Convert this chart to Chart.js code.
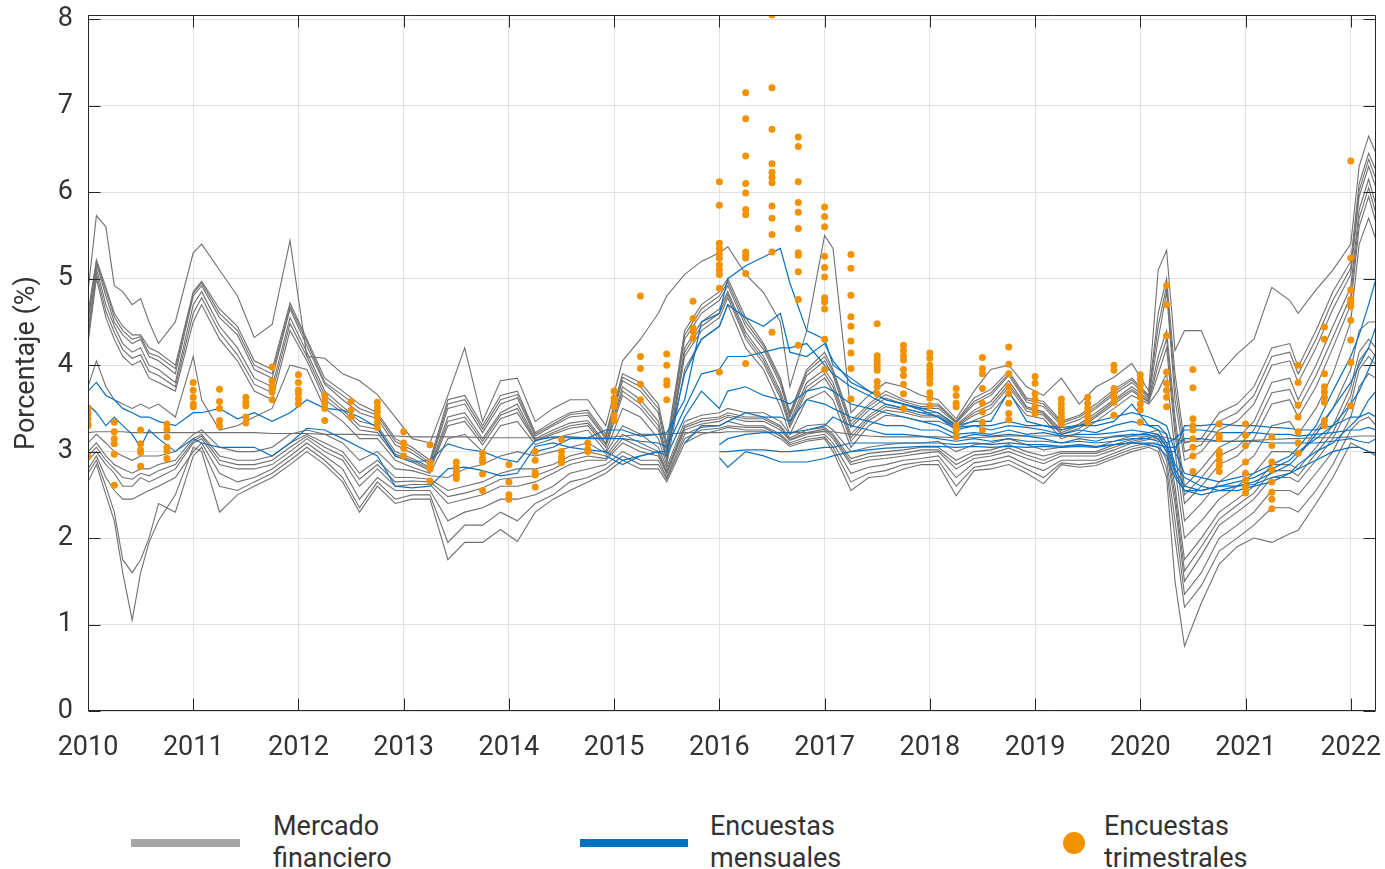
<!DOCTYPE html>
<html><head><meta charset="utf-8">
<script src="https://cdn.jsdelivr.net/npm/chart.js@4"></script>
<style>
html,body{margin:0;padding:0;background:#fff;}
#wrap{position:relative;width:1385px;height:869px;font-family:Roboto,sans-serif;color:#333;overflow:hidden;}
#c{position:absolute;left:0;top:0;}
.lg{position:absolute;font-size:27px;line-height:32px;color:#333;white-space:nowrap;}
.sw{position:absolute;}
</style></head><body>
<div id="wrap">
<canvas id="c" width="1385" height="790"></canvas>
<div class="sw" style="left:131px;top:839px;width:109px;height:8px;background:#a6a6a6"></div>
<div class="lg" style="left:273px;top:810px">Mercado<br>financiero</div>
<div class="sw" style="left:580px;top:839px;width:108px;height:8px;background:#0070c0"></div>
<div class="lg" style="left:710px;top:810px">Encuestas<br>mensuales</div>
<div class="sw" style="left:1063px;top:832px;width:22px;height:22px;border-radius:50%;background:#f39200"></div>
<div class="lg" style="left:1104px;top:810px">Encuestas<br>trimestrales</div>
</div>
<script>
// Fechas (años decimales) de las series mensuales
const fechas = [2010.00,2010.08,2010.17,2010.25,2010.33,2010.42,2010.50,2010.58,2010.67,2010.83,
2011.00,2011.08,2011.25,2011.42,2011.58,2011.75,2011.92,2012.08,2012.25,2012.42,
2012.58,2012.75,2012.92,2013.08,2013.25,2013.42,2013.58,2013.75,2013.92,2014.08,
2014.25,2014.42,2014.58,2014.75,2014.92,2015.08,2015.25,2015.42,2015.50,2015.67,
2015.83,2016.00,2016.08,2016.25,2016.42,2016.58,2016.67,2016.83,2017.00,2017.08,
2017.25,2017.42,2017.58,2017.75,2017.92,2018.08,2018.25,2018.42,2018.58,2018.75,
2018.92,2019.08,2019.25,2019.42,2019.58,2019.75,2019.92,2020.08,2020.17,2020.25,
2020.33,2020.42,2020.58,2020.75,2020.92,2021.08,2021.25,2021.42,2021.50,2021.67,
2021.83,2022.00,2022.08,2022.17,2022.24];

// Mercado financiero (gris)
const mercadoA = [4.85,5.73,5.6,4.92,4.85,4.7,4.77,4.5,4.25,4.5, 5.3,5.4,5.1,4.8,4.32,4.47,5.44,4.1,4.08,3.9, 3.82,3.66,3.4,3.15,3.1,3.65,4.2,3.35,3.82,3.85, 3.35,3.5,3.6,3.6,3.3,4.05,4.3,4.6,4.8,5.05, 5.2,5.3,5.37,5.05,4.84,4.5,3.75,4.4,5.5,5.35, 3.45,3.65,3.8,3.75,3.65,3.6,3.38,3.7,3.95,4.0, 3.75,3.65,3.85,3.55,3.75,3.86,4.02,3.7,5.1,5.33, 4.17,4.4,4.4,3.9,4.13,4.3,4.9,4.75,4.6,4.87, 5.1,5.4,6.3,6.65,6.45];
const mercadoU1 = [4.6,5.22,4.9,4.6,4.45,4.35,4.35,4.2,4.15,4.0, 4.85,4.97,4.65,4.45,4.05,3.95,4.72,4.3,3.85,3.7, 3.55,3.45,3.15,3.05,2.9,3.6,3.65,3.3,3.65,3.7, 3.22,3.35,3.45,3.48,3.2,3.9,3.8,3.55,3.1,4.4, 4.7,4.85,5.0,4.55,4.25,3.85,3.45,3.95,4.15,3.95, 3.35,3.55,3.7,3.6,3.55,3.55,3.35,3.62,3.72,3.93, 3.62,3.58,3.35,3.42,3.55,3.72,3.85,3.65,4.6,5.0, 3.9,3.1,3.15,3.45,3.55,3.75,4.2,4.25,3.98,4.4, 4.85,5.2,6.1,6.45,6.25];
const mercadoU1b = [4.52,5.2,4.86,4.56,4.4,4.3,4.33,4.14,4.1,3.96, 4.83,4.95,4.6,4.4,4.0,3.9,4.68,4.27,3.8,3.65, 3.5,3.42,3.12,3.02,2.87,3.55,3.6,3.26,3.6,3.66, 3.2,3.32,3.43,3.45,3.17,3.86,3.75,3.5,3.05,4.35, 4.65,4.8,4.96,4.5,4.22,3.82,3.43,3.92,4.1,3.92, 3.31,3.52,3.66,3.58,3.52,3.53,3.34,3.58,3.68,3.9, 3.6,3.55,3.33,3.4,3.52,3.69,3.83,3.64,4.45,4.92, 3.75,3.0,3.08,3.35,3.45,3.65,4.1,4.15,3.9,4.3, 4.75,5.12,6.02,6.38,6.15];
const mercadoU2 = [4.5,5.18,4.8,4.5,4.35,4.25,4.3,4.1,4.05,3.9, 4.8,4.92,4.55,4.35,3.95,3.85,4.65,4.22,3.78,3.6, 3.45,3.38,3.08,2.98,2.85,3.5,3.55,3.22,3.55,3.62, 3.18,3.3,3.4,3.42,3.15,3.82,3.7,3.45,3.0,4.3, 4.6,4.75,4.92,4.45,4.18,3.78,3.4,3.88,4.05,3.88, 3.28,3.48,3.62,3.55,3.5,3.5,3.33,3.55,3.65,3.88, 3.57,3.52,3.3,3.37,3.5,3.66,3.8,3.62,4.3,4.85, 3.6,2.9,3.0,3.25,3.35,3.55,4.0,4.05,3.8,4.2, 4.65,5.05,5.95,6.3,6.05];
const mercadoU3 = [4.4,5.12,4.7,4.45,4.25,4.15,4.2,4.0,3.95,3.8, 4.7,4.85,4.45,4.2,3.85,3.75,4.55,4.15,3.7,3.52, 3.35,3.3,3.0,2.92,2.82,3.4,3.45,3.15,3.45,3.55, 3.15,3.25,3.33,3.36,3.1,3.75,3.6,3.35,2.95,4.2, 4.5,4.65,4.85,4.38,4.1,3.7,3.35,3.8,3.95,3.8, 3.2,3.42,3.55,3.5,3.45,3.45,3.31,3.48,3.58,3.82, 3.52,3.46,3.25,3.32,3.45,3.6,3.75,3.6,4.1,4.4, 3.4,2.6,2.8,3.05,3.15,3.35,3.8,3.85,3.6,4.0, 4.45,4.9,5.8,6.15,5.85];
const mercadoU3b = [4.32,5.06,4.62,4.38,4.18,4.08,4.12,3.93,3.88,3.75, 4.6,4.78,4.38,4.12,3.78,3.68,4.48,4.1,3.65,3.48, 3.3,3.26,2.97,2.9,2.8,3.35,3.4,3.12,3.42,3.5, 3.13,3.22,3.3,3.33,3.08,3.7,3.55,3.3,2.92,4.15, 4.45,4.6,4.82,4.34,4.06,3.66,3.31,3.75,3.9,3.75, 3.16,3.39,3.52,3.48,3.42,3.42,3.3,3.45,3.54,3.78, 3.5,3.44,3.22,3.3,3.42,3.58,3.72,3.58,4.0,4.3, 3.3,2.5,2.7,2.95,3.05,3.25,3.68,3.72,3.5,3.88, 4.32,4.8,5.7,6.05,5.75];
const mercadoU4 = [4.25,5.0,4.55,4.3,4.1,4.0,4.05,3.85,3.8,3.7, 4.5,4.7,4.3,4.05,3.7,3.6,4.4,4.05,3.6,3.45, 3.25,3.22,2.95,2.88,2.78,3.3,3.35,3.08,3.38,3.45, 3.12,3.2,3.27,3.3,3.05,3.65,3.5,3.25,2.9,4.1, 4.4,4.55,4.78,4.3,4.02,3.62,3.28,3.7,3.85,3.7, 3.12,3.36,3.48,3.45,3.4,3.4,3.29,3.42,3.5,3.75, 3.47,3.42,3.2,3.27,3.4,3.55,3.7,3.57,3.9,4.2, 3.2,2.4,2.6,2.85,2.95,3.15,3.55,3.6,3.4,3.75, 4.2,4.7,5.6,5.95,5.65];
const mercadoU5 = [3.75,4.05,3.75,3.6,3.55,3.5,3.55,3.5,3.55,3.4, 4.1,3.6,3.25,3.3,3.4,3.5,4.0,3.95,3.5,3.35, 3.15,3.15,2.9,2.82,2.75,3.15,3.2,3.0,3.3,3.35, 3.08,3.15,3.2,3.25,3.0,3.5,3.4,3.15,2.85,3.95, 4.3,4.45,4.7,4.2,3.95,3.52,3.2,3.6,3.7,3.6, 3.05,3.3,3.42,3.4,3.35,3.35,3.27,3.36,3.44,3.68, 3.42,3.38,3.15,3.22,3.35,3.5,3.65,3.55,3.7,3.9, 3.0,2.2,2.4,2.65,2.8,2.95,3.3,3.35,3.2,3.5, 3.9,4.5,5.4,5.7,5.45];
const mercadoF = [3.22,3.23,3.23,3.23,3.23,3.22,3.22,3.22,3.22,3.22, 3.22,3.22,3.22,3.22,3.22,3.21,3.21,3.21,3.2,3.2, 3.2,3.19,3.18,3.17,3.17,3.17,3.17,3.16,3.16,3.16, 3.16,3.16,3.16,3.16,3.16,3.18,3.2,3.2,3.2,3.22, 3.22,3.22,3.23,3.23,3.23,3.22,3.22,3.22,3.23,3.23, 3.2,3.18,3.17,3.17,3.17,3.17,3.16,3.16,3.17,3.18, 3.18,3.18,3.18,3.17,3.16,3.17,3.18,3.18,3.18,3.16, 3.14,3.12,3.12,3.12,3.12,3.13,3.14,3.15,3.15,3.16, 3.16,3.17,3.18,3.18,3.18];
const mercadoL1 = [3.1,3.2,3.1,3.0,2.95,2.9,2.95,2.95,2.95,3.0, 3.2,3.25,3.05,3.0,3.0,3.05,3.2,3.25,3.2,3.1, 2.9,3.0,2.8,2.78,2.72,2.7,2.8,2.85,2.95,3.0, 2.95,3.0,3.05,3.1,2.98,3.3,3.2,3.05,2.82,3.35, 3.42,3.45,3.5,3.45,3.45,3.35,3.2,3.3,3.32,3.25, 3.0,3.05,3.08,3.1,3.1,3.12,3.0,3.08,3.1,3.15, 3.08,3.02,3.05,3.08,3.05,3.12,3.18,3.22,3.25,3.2, 2.8,2.0,2.2,2.45,2.6,2.75,3.0,3.0,2.95,3.25, 3.5,3.95,4.4,4.5,4.5];
const mercadoL2 = [3.0,3.1,2.95,2.85,2.8,2.75,2.8,2.8,2.85,2.9, 3.15,3.2,2.95,2.9,2.9,2.95,3.1,3.2,3.1,3.0, 2.75,2.9,2.7,2.7,2.68,2.55,2.6,2.65,2.75,2.8, 2.8,2.85,2.95,3.0,2.95,3.2,3.1,3.0,2.78,3.3, 3.38,3.4,3.45,3.4,3.4,3.3,3.16,3.25,3.28,3.2, 2.92,2.98,3.0,3.02,3.05,3.05,2.9,3.0,3.02,3.08, 3.0,2.95,3.0,3.0,3.0,3.08,3.14,3.18,3.2,3.1, 2.6,1.75,2.0,2.3,2.45,2.6,2.85,2.85,2.8,3.05, 3.3,3.75,4.15,4.3,4.2];
const mercadoL2b = [2.95,3.05,2.9,2.8,2.7,2.68,2.75,2.72,2.78,2.85, 3.12,3.18,2.9,2.85,2.85,2.9,3.05,3.18,3.05,2.95, 2.68,2.85,2.65,2.66,2.65,2.48,2.52,2.58,2.68,2.7, 2.72,2.8,2.9,2.95,2.92,3.15,3.05,2.98,2.76,3.28, 3.35,3.38,3.42,3.38,3.38,3.28,3.14,3.22,3.26,3.18, 2.88,2.94,2.96,2.98,3.02,3.02,2.85,2.96,2.98,3.04, 2.96,2.9,2.98,2.98,2.98,3.05,3.12,3.16,3.18,3.05, 2.5,1.62,1.9,2.22,2.38,2.52,2.78,2.78,2.72,2.98, 3.22,3.65,4.05,4.2,4.1];
const mercadoL3 = [2.9,3.0,2.85,2.75,2.6,2.6,2.7,2.65,2.7,2.8, 3.1,3.15,2.85,2.8,2.8,2.85,3.0,3.15,3.0,2.9, 2.6,2.8,2.6,2.62,2.62,2.4,2.45,2.5,2.6,2.6, 2.65,2.75,2.85,2.9,2.9,3.1,3.0,2.95,2.74,3.25, 3.32,3.35,3.4,3.35,3.35,3.25,3.13,3.2,3.24,3.15, 2.85,2.9,2.92,2.95,2.98,3.0,2.8,2.92,2.95,3.0, 2.92,2.86,2.95,2.95,2.95,3.02,3.1,3.14,3.15,3.0, 2.4,1.5,1.8,2.15,2.3,2.45,2.7,2.7,2.65,2.9, 3.15,3.55,3.95,4.1,4.0];
const mercadoL4 = [2.8,2.95,2.7,2.55,2.45,2.45,2.5,2.55,2.6,2.7, 3.0,3.1,2.75,2.65,2.7,2.8,2.95,3.1,2.95,2.8, 2.45,2.7,2.55,2.55,2.55,2.2,2.3,2.35,2.45,2.45, 2.5,2.6,2.75,2.8,2.85,3.0,2.9,2.9,2.7,3.2, 3.28,3.3,3.35,3.3,3.3,3.2,3.1,3.17,3.2,3.1, 2.75,2.82,2.85,2.9,2.92,2.95,2.7,2.87,2.9,2.95, 2.85,2.78,2.9,2.9,2.9,2.98,3.06,3.1,3.1,2.9, 2.2,1.35,1.6,2.0,2.15,2.3,2.55,2.55,2.5,2.75, 3.0,3.4,3.75,3.9,3.85];
const mercadoD1 = [2.75,2.9,2.6,2.3,1.75,1.6,1.75,2.0,2.4,2.3, 2.95,3.05,2.6,2.55,2.65,2.75,2.9,3.05,2.9,2.7, 2.35,2.65,2.45,2.5,2.5,1.95,2.15,2.15,2.3,2.2, 2.4,2.5,2.65,2.7,2.8,2.95,2.85,2.85,2.68,3.15, 3.25,3.27,3.3,3.28,3.28,3.18,3.08,3.14,3.17,3.05, 2.65,2.75,2.78,2.85,2.88,2.9,2.6,2.82,2.85,2.9, 2.8,2.7,2.87,2.85,2.87,2.95,3.03,3.07,3.05,2.8, 2.0,1.2,1.45,1.85,2.0,2.15,2.35,2.35,2.3,2.55, 2.85,3.25,3.35,3.4,3.3];
const mercadoD2 = [2.65,2.85,2.5,2.2,1.6,1.05,1.6,1.95,2.2,2.5, 3.05,3.0,2.3,2.5,2.6,2.7,2.85,3.0,2.85,2.65, 2.3,2.6,2.4,2.45,2.45,1.75,1.95,1.95,2.1,1.96, 2.3,2.45,2.55,2.65,2.75,2.9,2.8,2.8,2.65,3.1, 3.2,3.25,3.28,3.25,3.25,3.15,3.06,3.12,3.15,3.0, 2.55,2.7,2.72,2.8,2.85,2.85,2.49,2.78,2.8,2.85, 2.75,2.63,2.85,2.82,2.84,2.92,3.0,3.05,3.0,2.7, 1.5,0.75,1.25,1.7,1.9,2.0,1.95,2.05,2.09,2.4, 2.7,3.1,3.05,3.0,2.95];

// Encuestas mensuales (azul): valores desde el índice de inicio indicado
const mensual1Inicio = 0;
const mensual1 = [3.7,3.8,3.65,3.6,3.5,3.45,3.4,3.4,3.35,3.3, 3.45,3.45,3.5,3.38,3.45,3.35,3.45,3.6,3.5,3.48, 3.4,3.28,2.95,2.88,2.9,3.09,3.03,3.0,2.92,2.88, 3.13,3.17,3.17,3.16,3.25,3.25,3.18,3.2,3.22,3.6, 4.5,4.6,5.0,5.15,5.25,5.35,4.95,4.4,4.3,4.0, 3.85,3.7,3.6,3.55,3.48,3.4,3.28,3.3,3.3,3.35, 3.3,3.3,3.28,3.3,3.35,3.4,3.45,3.4,3.35,3.3, 3.0,2.75,2.7,2.65,2.7,2.75,2.85,2.95,3.05,3.3, 3.7,4.1,4.35,4.7,5.0];
const mensual2Inicio = 0;
const mensual2 = [3.55,3.45,3.3,3.4,3.3,3.2,3.05,3.25,3.15,3.0, 3.15,3.1,3.05,3.05,3.05,2.95,3.1,3.27,3.25,3.15, 3.05,2.95,2.6,2.58,2.6,2.8,2.82,2.78,2.72,2.75, 3.06,3.1,3.05,3.02,3.0,2.9,2.95,3.0,3.0,3.9, 4.3,4.45,4.7,4.55,4.45,4.6,4.15,4.1,4.25,4.05, 3.8,3.7,3.6,3.55,3.5,3.45,3.3,3.35,3.35,3.7, 3.35,3.3,3.25,3.3,3.3,3.35,3.55,3.3,3.3,3.2, 2.85,2.7,2.6,2.55,2.6,2.65,2.75,2.85,2.95,3.2, 3.5,3.8,4.0,4.2,4.45];
const mensual3Inicio = 30;
const mensual3 = [3.0,3.05,3.15,3.15,3.15,3.15,3.12,3.1,3.05,3.5, 3.9,3.95,4.1,4.1,4.15,4.2,4.2,4.25,4.0,3.9, 3.75,3.65,3.55,3.5,3.45,3.4,3.25,3.3,3.25,3.3, 3.28,3.25,3.2,3.25,3.22,3.3,3.35,3.3,3.25,3.1, 2.8,2.6,2.55,2.6,2.65,2.7,2.8,2.9,3.0,3.15, 3.3,3.55,3.7,3.95,4.15];
const mensual4Inicio = 34;
const mensual4 = [2.95,2.85,2.95,3.0,2.95,3.4, 3.7,3.5,3.7,3.75,3.65,3.6,3.55,3.7,3.75,3.7, 3.55,3.5,3.45,3.4,3.35,3.3,3.2,3.22,3.2,3.25, 3.2,3.22,3.18,3.2,3.2,3.22,3.25,3.22,3.2,3.05, 2.75,2.55,2.5,2.55,2.55,2.6,2.65,2.75,2.85,3.0, 3.1,3.3,3.4,3.6,3.7];
const mensual5Inicio = 39;
const mensual5 = [3.1, 3.3,3.3,3.35,3.45,3.4,3.4,3.35,3.6,3.55,3.5, 3.4,3.35,3.3,3.3,3.25,3.25,3.15,3.2,3.18,3.2, 3.18,3.15,3.1,3.15,3.12,3.18,3.2,3.2,3.15,3.0, 3.0,3.3,3.3,3.32,3.3,3.3,3.28,3.27,3.25,3.25, 3.3,3.4,3.4,3.45,3.4];
const mensual6Inicio = 41;
const mensual6 = [3.08,3.15,3.2,3.22,3.22,3.22,3.25,3.3,3.4, 3.3,3.25,3.2,3.2,3.18,3.15,3.12,3.15,3.12,3.15, 3.12,3.12,3.1,3.12,3.1,3.12,3.15,3.15,3.12,3.1, 3.15,3.25,3.25,3.22,3.22,3.22,3.2,3.2,3.18,3.2, 3.22,3.25,3.25,3.28,3.25];
const mensual7Inicio = 41;
const mensual7 = [3.0,3.0,3.02,3.02,3.0,3.0,3.02,3.05,3.05, 3.1,3.1,3.1,3.1,3.1,3.1,3.08,3.1,3.08,3.1, 3.08,3.08,3.06,3.08,3.06,3.08,3.1,3.1,3.08,3.05, 3.05,3.15,3.15,3.12,3.12,3.12,3.1,3.1,3.1,3.1, 3.12,3.15,3.12,3.1,3.15];
const mensual8Inicio = 41;
const mensual8 = [2.93,2.82,3.0,2.95,2.88,2.88,2.88,2.92,2.95, 3.0,3.02,3.04,3.05,3.06,3.06,3.05,3.06,3.05,3.06, 3.05,3.06,3.05,3.06,3.05,3.08,3.1,3.08,3.05,2.95, 2.7,2.55,2.55,2.6,2.6,2.62,2.7,2.75,2.8,2.9, 3.0,3.05,3.05,3.0,2.98];

// Encuestas trimestrales (naranja)
const trimestres = [2010.00,2010.25,2010.50,2010.75,2011.00,2011.25,2011.50,2011.75,2012.00,2012.25,2012.50,2012.75,
2013.00,2013.25,2013.50,2013.75,2014.00,2014.25,2014.50,2014.75,2015.00,2015.25,2015.50,2015.75,
2016.00,2016.25,2016.50,2016.75,2017.00,2017.25,2017.50,2017.75,2018.00,2018.25,2018.50,2018.75,
2019.00,2019.25,2019.50,2019.75,2020.00,2020.25,2020.50,2020.75,2021.00,2021.25,2021.50,2021.75,2022.00];
const trimestrales = [
[3.5,3.44,3.38,3.32,3.3,2.94],[3.34,3.23,3.15,3.09,2.97,2.61],[3.25,3.09,3.02,2.99,2.83],[3.32,3.26,3.17,3.05,3.01,2.92],
[3.8,3.71,3.63,3.55,3.52],[3.72,3.58,3.5,3.36,3.3],[3.63,3.57,3.53,3.4,3.33],[3.98,3.82,3.76,3.73,3.69,3.6],
[3.89,3.8,3.71,3.67,3.61,3.55],[3.65,3.59,3.55,3.5,3.36],[3.58,3.48,3.4],[3.57,3.51,3.46,3.4,3.34,3.28],
[3.23,3.1,3.04,2.95],[3.08,2.88,2.83,2.8,2.66],[2.88,2.82,2.77,2.73,2.69],[2.98,2.92,2.88,2.74,2.55],
[2.85,2.65,2.5,2.45],[3.0,2.9,2.76,2.73,2.59],[3.14,3.0,2.94,2.9,2.87],[3.1,3.03,3.0],
[3.7,3.62,3.58,3.52,3.42,3.36],[4.8,4.1,3.96,3.78,3.6],[4.13,4.0,3.82,3.77,3.6],[4.74,4.54,4.43,4.39,4.31],
[6.12,5.85,5.41,5.35,5.29,5.24,5.16,5.1,5.05,4.89,3.92],[7.15,6.85,6.42,6.1,5.99,5.8,5.74,5.31,5.27,5.24,5.06,4.02],
[8.05,7.21,6.73,6.33,6.23,6.17,6.11,5.84,5.7,5.51,5.31,4.38],[6.64,6.53,6.12,5.88,5.77,5.58,5.3,5.27,5.08,4.76,4.23],
[5.83,5.72,5.6,5.26,5.13,5.02,4.78,4.73,4.65,4.3,3.95],[5.28,5.12,4.81,4.56,4.45,4.28,4.14,3.96,3.61],
[4.48,4.11,4.06,4.02,3.98,3.94,3.81,3.75,3.67],[4.23,4.17,4.11,4.06,3.95,3.88,3.78,3.67,3.5],
[4.14,4.08,4.0,3.95,3.9,3.85,3.79,3.68,3.62,3.53],[3.73,3.65,3.56,3.52,3.3,3.25,3.17],
[4.09,3.96,3.9,3.73,3.56,3.46,3.34,3.25],[4.21,4.01,3.9,3.75,3.67,3.56,3.44,3.37],
[3.87,3.79,3.67,3.6,3.52,3.44],[3.61,3.55,3.5,3.45,3.4,3.36,3.32],[3.63,3.56,3.5,3.45,3.4,3.34],
[4.0,3.94,3.73,3.67,3.62,3.57,3.42],[3.89,3.83,3.77,3.71,3.63,3.55,3.48,3.34],
[4.92,4.7,4.34,3.92,3.79,3.71,3.63,3.52],[3.95,3.74,3.38,3.3,3.25,3.15,3.05,2.95,2.77],
[3.32,3.19,3.15,3.0,2.96,2.9,2.84,2.77],[3.32,3.19,3.07,2.88,2.75,2.67,2.59,2.52],
[3.17,3.07,2.88,2.79,2.65,2.53,2.45,2.34],[4.0,3.8,3.54,3.4,3.23,3.1,2.98],
[4.44,4.3,3.9,3.75,3.69,3.63,3.57,3.36,3.3],[6.36,5.24,4.87,4.76,4.72,4.68,4.52,4.29,4.03,3.53]];

// Ticks
const ticksAnios = [2010,2011,2012,2013,2014,2015,2016,2017,2018,2019,2020,2021,2022];
const ticksPorcentaje = [0,1,2,3,4,5,6,7,8];

const GRIS = '#707070', AZUL = '#0a71c1', NARANJA = '#f39200';
const FONT = 'Roboto, "Noto Sans", sans-serif';

const mercado = [mercadoA,mercadoU1,mercadoU1b,mercadoU2,mercadoU3,mercadoU3b,mercadoU4,mercadoU5,mercadoF,
  mercadoL1,mercadoL2,mercadoL2b,mercadoL3,mercadoL4,mercadoD1,mercadoD2];
mercado.forEach((s,i)=>{ if (s.length!==fechas.length) console.error('mercado', i, s.length); });
const mensuales = [[mensual1Inicio,mensual1],[mensual2Inicio,mensual2],[mensual3Inicio,mensual3],[mensual4Inicio,mensual4],
  [mensual5Inicio,mensual5],[mensual6Inicio,mensual6],[mensual7Inicio,mensual7],[mensual8Inicio,mensual8]];
mensuales.forEach(([s,v],i)=>{ if (s+v.length!==fechas.length) console.error('mensual', i, s+v.length); });

const datasets = [];
const puntos = [];
trimestres.forEach((t,i)=>trimestrales[i].forEach(v=>puntos.push({x:t,y:v})));
datasets.push({type:'scatter', label:'Encuestas trimestrales', data:puntos, showLine:false,
  pointRadius:3.5, pointHoverRadius:3.5, pointBackgroundColor:NARANJA, pointBorderWidth:0, backgroundColor:NARANJA, borderColor:NARANJA});
mensuales.forEach(([s,v],i)=>datasets.push({type:'line', label:'Encuestas mensuales '+(i+1),
  data:v.map((y,k)=>({x:fechas[s+k], y})), borderColor:AZUL, borderWidth:1.2, pointRadius:0, tension:0, spanGaps:false}));
mercado.forEach((v,i)=>datasets.push({type:'line', label:'Mercado financiero '+(i+1),
  data:v.map((y,k)=>({x:fechas[k], y})), borderColor:GRIS, borderWidth:1.1, pointRadius:0, tension:0}));

const marco = {
  id:'marco',
  afterDatasetsDraw(chart){
    const {ctx, chartArea:a, scales:{x,y}} = chart;
    ctx.save();
    ctx.strokeStyle = '#262626'; ctx.lineWidth = 1;
    const L = Math.round(a.left)+0.5, R = Math.round(a.right)-0.5, T = Math.round(a.top)+0.5, B = Math.round(a.bottom)-0.5;
    ctx.beginPath();
    ctx.rect(L,T,R-L,B-T);
    const len = 12;
    x.ticks.forEach(t=>{ const p = Math.round(x.getPixelForValue(t.value))+0.5; ctx.moveTo(p,B); ctx.lineTo(p,B-len); ctx.moveTo(p,T); ctx.lineTo(p,T+len); });
    y.ticks.forEach(t=>{ const p = Math.round(y.getPixelForValue(t.value))+0.5; ctx.moveTo(L,p); ctx.lineTo(L+len,p); ctx.moveTo(R,p); ctx.lineTo(R-len,p); });
    ctx.stroke();
    ctx.restore();
  }
};

function sinRelleno(s){ s.paddingTop = 0; s.paddingBottom = 0; s.paddingLeft = 0; s.paddingRight = 0; }

new Chart(document.getElementById('c'), {
  data:{datasets},
  options:{
    responsive:false, animation:false, devicePixelRatio:1,
    layout:{autoPadding:false, padding:{top:15,right:9,left:0,bottom:0}},
    plugins:{legend:{display:false}, tooltip:{enabled:false}},
    scales:{
      x:{type:'linear', min:2010, max:2022.24,
        afterBuildTicks(s){ s.ticks = ticksAnios.map(v=>({value:v})); },
        afterFit(s){ s.height = 79; sinRelleno(s); },
        grid:{color:'#e1e1e1', lineWidth:1, drawTicks:false},
        border:{display:false},
        ticks:{padding:21, color:'#333', font:{family:FONT, size:27}, maxRotation:0, autoSkip:false, callback:v=>String(v)}},
      y:{type:'linear', min:0, max:8.05,
        afterBuildTicks(s){ s.ticks = ticksPorcentaje.map(v=>({value:v})); },
        afterFit(s){ s.width = 88; sinRelleno(s); },
        grid:{color:'#e1e1e1', lineWidth:1, drawTicks:false},
        border:{display:false},
        title:{display:true, text:'Porcentaje (%)', color:'#333', font:{family:FONT, size:27}, padding:{top:11,bottom:0}},
        ticks:{padding:15, color:'#333', font:{family:FONT, size:27}, callback:v=>String(v)}}
    }
  },
  plugins:[marco]
});
</script>
</body></html>
